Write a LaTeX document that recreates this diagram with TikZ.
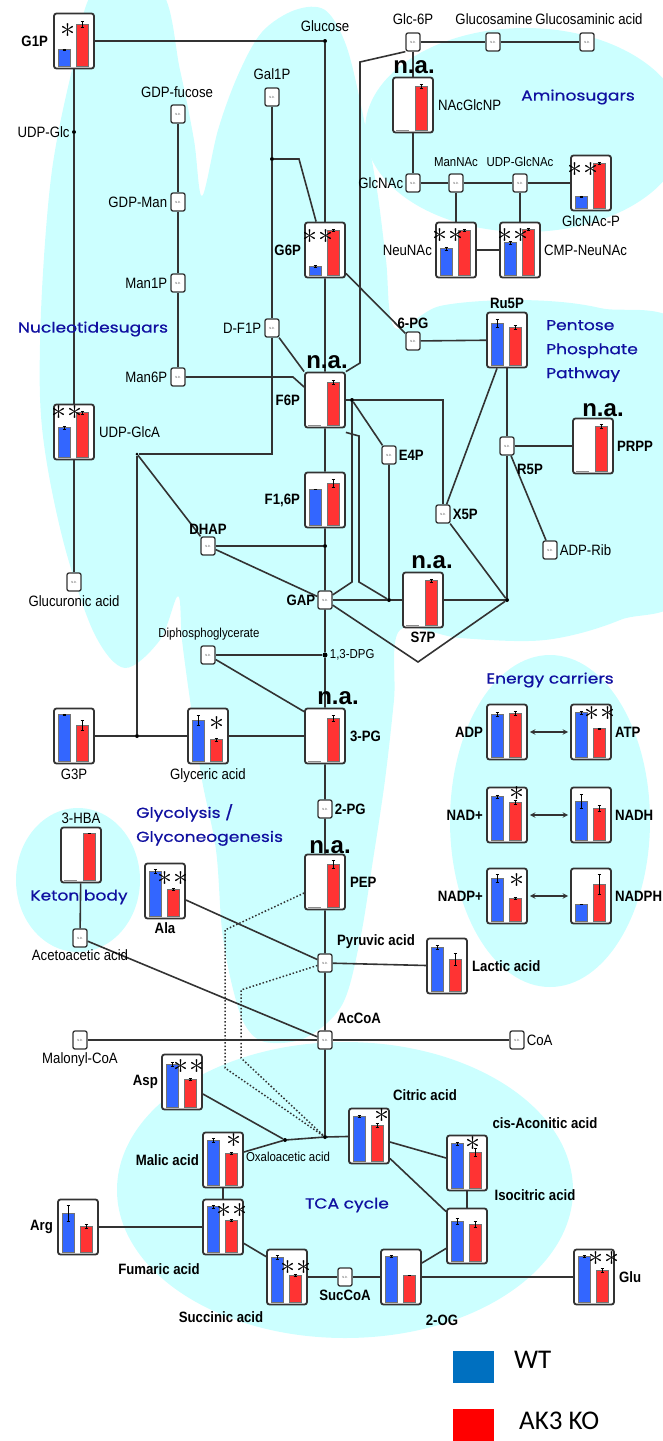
\documentclass[tikz,border=0pt]{standalone}
\usepackage{fontspec}
\setmainfont{Liberation Sans}[FakeStretch=0.88]
\newfontfamily\nafont{Liberation Sans}
\newfontfamily\grpfont{Poppins}[FakeStretch=1.18, FakeBold=0.6]
\newfontfamily\legfont{Carlito}
\usetikzlibrary{positioning,calc,arrows}

\definecolor{bgcyan}{RGB}{204,255,255}
\definecolor{wtblue}{RGB}{51,102,255}
\definecolor{kored}{RGB}{255,51,51}
\definecolor{grpblue}{RGB}{16,16,160}
\definecolor{legblue}{RGB}{0,112,192}
\definecolor{legred}{RGB}{255,0,0}
\definecolor{linegray}{RGB}{51,51,51}

% bar pair inside a box: node, WT, KO, WT error, KO error
\newcommand{\errbar}[4]{%
  \draw[errline] ($(#1.south west)+(#2,{-3-#3-#4})$) -- ++(0,{2*#4})
    ++(-1.5,0) -- ++(3,0) ++(-1.5,{-2*#4}) ++(-1.5,0) -- ++(3,0);}
\newcommand{\bars}[5]{%
  \draw[wtbar] ($(#1.south west)+(5,-3)$) rectangle ++(12,-#2);
  \draw[kobar] ($(#1.south west)+(23,-3)$) rectangle ++(12,-#3);
  \errbar{#1}{11}{#2}{#4}
  \errbar{#1}{29}{#3}{#5}}
% WT not available
\newcommand{\kobars}[3]{%
  \draw[baseln] ($(#1.south west)+(4,-3)$) -- ++(13,0);
  \draw[kobar] ($(#1.south west)+(23,-3)$) rectangle ++(12,-#2);
  \errbar{#1}{29}{#2}{#3}}
\newcommand{\signif}[4]{\node[sigstar] (#1s) at ($(#1.center)+(#2,#3)$) {#4};}

\begin{document}
\begin{tikzpicture}[
    x=1pt, y=-1pt,
    bbox/.style={draw=linegray, line width=1.8pt, fill=white, rounded corners=2.5pt, minimum width=40pt, minimum height=55pt, inner sep=0pt},
    ndbox/.style={draw=linegray, line width=1.3pt, fill=white, rounded corners=2pt, minimum width=14pt, minimum height=18pt, inner sep=0pt, font=\fontsize{3}{3}\selectfont, text=black!70},
    lbl/.style={font=\fontsize{15}{16}\selectfont, inner sep=1pt},
    slbl/.style={font=\fontsize{13}{14}\selectfont, inner sep=1pt},
    blbl/.style={font=\bfseries\fontsize{15}{16}\selectfont, inner sep=1pt},
    nalbl/.style={font=\nafont\bfseries\fontsize{24}{24}\selectfont, inner sep=0pt},
    grp/.style={font=\grpfont\fontsize{14.5}{24}\selectfont, text=grpblue, align=left, inner sep=0pt},
    sigstar/.style={font=\huge, text=black, inner sep=0pt, scale=1.45, transform shape},
    conn/.style={draw=linegray, line width=1.6pt},
    dotconn/.style={draw=linegray, line width=1.5pt, dotted},
    biarrow/.style={<->, >=stealth, draw=linegray, line width=1.4pt, shorten >=2pt, shorten <=2pt},
    jdot/.style={circle, fill=black, inner sep=0pt, minimum size=4pt},
    wtbar/.style={fill=wtblue, draw=black!55, line width=0.5pt},
    kobar/.style={fill=kored, draw=black!55, line width=0.5pt},
    errline/.style={draw=black, line width=0.5pt},
    baseln/.style={draw=black!45, line width=1pt},
    legkey/.style={minimum width=41pt, minimum height=32pt, inner sep=0pt},
    legtxt/.style={font=\legfont\fontsize{27}{27}\selectfont, inner sep=0pt}
]
\useasboundingbox (0,0) rectangle (663,1441);

% background areas
\fill[bgcyan] plot[smooth cycle, tension=0.55] coordinates {(95,-10) (160,-10) (180,70) (194,140) (202,196) (218,130) (238,75) (262,32) (295,10) (325,10) (346,45) (362,110) (377,190) (386,260) (395,328) (440,306) (520,300) (600,308) (690,340) (690,580) (620,620) (545,640) (460,638) (400,630) (394,700) (385,780) (373,860) (360,940) (342,1005) (305,1038) (265,1042) (245,1025) (232,985) (222,930) (216,850) (202,780) (190,700) (182,640) (178,596) (160,640) (125,668) (95,635) (67,555) (48,470) (40,397) (42,290) (52,170) (72,70)};
\fill[bgcyan] (525,130) ellipse [x radius=160pt, y radius=102pt];
\fill[bgcyan] (550,821) ellipse [x radius=100pt, y radius=166pt];
\fill[bgcyan] (78,880) ellipse [x radius=62pt, y radius=72pt];
\fill[bgcyan] (345,1190) ellipse [x radius=228pt, y radius=148pt];

% measured metabolites
\node[bbox] (g1p) at (74,41) {};
\node[bbox] (nacglcnp) at (413,105) {};
\node[bbox] (glcnacp) at (591,183) {};
\node[bbox] (neunac) at (456,250) {};
\node[bbox] (cmpneunac) at (520,250) {};
\node[bbox] (g6p) at (325,250) {};
\node[bbox] (udpglca) at (74,432) {};
\node[bbox] (f6p) at (325,400) {};
\node[bbox] (ru5p) at (507,340) {};
\node[bbox] (prpp) at (593,446) {};
\node[bbox] (f16p) at (325,500) {};
\node[bbox] (s7p) at (423,600) {};
\node[bbox] (g3p) at (74,736) {};
\node[bbox] (glyceric) at (208,736) {};
\node[bbox] (pg3) at (325,736) {};
\node[bbox] (hba) at (81,855) {};
\node[bbox] (ala) at (165,891) {};
\node[bbox] (pep) at (325,882) {};
\node[bbox] (lactic) at (447,966) {};
\node[bbox] (asp) at (182,1082) {};
\node[bbox] (malic) at (223,1160) {};
\node[bbox] (citric) at (369,1136) {};
\node[bbox] (cisaco) at (467,1163) {};
\node[bbox] (isocit) at (467,1236) {};
\node[bbox] (fumaric) at (223,1227) {};
\node[bbox] (arg) at (78,1227) {};
\node[bbox] (succinic) at (287,1277) {};
\node[bbox] (og2) at (401,1277) {};
\node[bbox] (glu) at (594,1277) {};
\node[bbox] (adp) at (507,732) {};
\node[bbox] (atp) at (591,732) {};
\node[bbox] (nad) at (507,815) {};
\node[bbox] (nadh) at (591,815) {};
\node[bbox] (nadp) at (507,896) {};
\node[bbox] (nadph) at (591,896) {};

% not detected
\node[ndbox] (glc6p) at (413,42) {N.D.};
\node[ndbox] (glcn) at (493,42) {N.D.};
\node[ndbox] (glcna) at (587,42) {N.D.};
\node[ndbox] (glcnac) at (413,183) {N.D.};
\node[ndbox] (mannac) at (456,183) {N.D.};
\node[ndbox] (udpglcnac) at (520,183) {N.D.};
\node[ndbox] (gdpfuc) at (178,114) {N.D.};
\node[ndbox] (gdpman) at (178,202) {N.D.};
\node[ndbox] (man1p) at (178,283) {N.D.};
\node[ndbox] (man6p) at (178,377) {N.D.};
\node[ndbox] (gal1p) at (272,97) {N.D.};
\node[ndbox] (df1p) at (272,328) {N.D.};
\node[ndbox] (pg6) at (413,341) {N.D.};
\node[ndbox] (e4p) at (389,455) {N.D.};
\node[ndbox] (x5p) at (443,514) {N.D.};
\node[ndbox] (r5p) at (507,446) {N.D.};
\node[ndbox] (adprib) at (550,550) {N.D.};
\node[ndbox] (dhap) at (208,546) {N.D.};
\node[ndbox] (gap) at (325,600) {N.D.};
\node[ndbox] (dpg) at (208,655) {N.D.};
\node[ndbox] (glcur) at (74,582) {N.D.};
\node[ndbox] (pg2) at (325,809) {N.D.};
\node[ndbox] (pyr) at (325,963) {N.D.};
\node[ndbox] (acac) at (80,938) {N.D.};
\node[ndbox] (accoa) at (325,1040) {N.D.};
\node[ndbox] (malcoa) at (80,1040) {N.D.};
\node[ndbox] (coa) at (517,1040) {N.D.};
\node[ndbox] (succoa) at (345,1277) {N.D.};

% junctions
\node[jdot] (glcdot) at (325,41) {};
\node[jdot] (udpglc) at (74,132) {};
\node[jdot] (galdot) at (272,159) {};
\node[jdot, minimum size=3pt] (g3pjoin) at (137,454) {};
\node[jdot] (g3pdot) at (137,736) {};
\node[jdot] (f6pdot) at (352,400) {};
\node[jdot] (dhapdot) at (325,546) {};
\node[jdot] (e4pdot) at (389,600) {};
\node[jdot] (ppdot) at (507,600) {};
\node[jdot, minimum size=5pt] (dpgdot) at (325,655) {};
\node[jdot] (oxdot1) at (285,1140) {};
\node[jdot] (oxdot2) at (325,1137) {};
\coordinate (vtip) at (418,662);

% connectors
\draw[conn] (g1p) -- (glcdot) -- (g6p);
\draw[conn] (g1p) -- (udpglc) -- (udpglca) -- (glcur);
\draw[conn] (glc6p) -- (glcn) -- (glcna);
\draw[conn] (glc6p) -- (nacglcnp) -- (glcnac);
\draw[conn] (glcnac) -- (mannac) -- (udpglcnac) -- (glcnacp);
\draw[conn] (mannac) -- (neunac) -- (cmpneunac);
\draw[conn] (udpglcnac) -- (cmpneunac);
\draw[conn] (glc6p.south west) -- (360,62) -- (360,363) -- (f6p.north east);
\draw[conn] (gdpfuc) -- (gdpman) -- (man1p) -- (man6p);
\draw[conn] (man6p) -- (293,377) -- ($(f6p.west)+(0,-13)$);
\draw[conn] (gal1p) -- (galdot) -- (df1p);
\draw[conn] (galdot) -- (299,159) -- ($(g6p.north west)+(12,0)$);
\draw[conn] (df1p) -- (272,454) -- (g3pjoin);
\draw[conn] (df1p) -- (f6p.north west);
\draw[conn] (g3pjoin) -- (g3pdot);
\draw[conn] (g3pjoin) -- (dhap);
\draw[conn] (g3p) -- (g3pdot) -- (glyceric) -- (pg3);
\draw[conn] (g6p) -- (f6p) -- (f16p) -- (dhapdot) -- (gap) -- (dpgdot) -- (pg3) -- (pg2) -- (pep) -- (pyr) -- (accoa) -- (oxdot2) -- (citric);
\draw[conn] (dhap) -- (dhapdot);
\draw[conn] (dhap) -- (gap);
\draw[conn] ($(g6p.south east)+(0,-5)$) -- (pg6);
\draw[conn] (pg6) -- (ru5p);
\draw[conn] (ru5p) -- (r5p) -- (ppdot);
\draw[conn] (r5p) -- (prpp);
\draw[conn] (r5p) -- (adprib);
\draw[conn] ($(ru5p.south)+(-10,0)$) -- (x5p);
\draw[conn] (f6p) -- (f6pdot) -- (443,400) -- (x5p);
\draw[conn] (f6pdot) -- (e4p) -- (e4pdot);
\draw[conn] (f6pdot) -- (352,582) -- (gap);
\draw[conn] ($(f6p.south east)+(0,4)$) -- (359,436) -- (359,582) -- (e4pdot);
\draw[conn] (gap) -- (e4pdot) -- (s7p) -- (ppdot);
\draw[conn] (x5p) -- (ppdot);
\draw[conn] (gap) -- (vtip) -- (ppdot);
\draw[conn] (dpg) -- (dpgdot);
\draw[conn] (dpg) -- ($(pg3.north west)+(0,4)$);
\draw[conn] (hba) -- (acac) -- (accoa);
\draw[conn] ($(ala.east)+(0,9)$) -- (pyr);
\draw[conn] (pyr) -- (lactic);
\draw[dotconn] ($(pep.west)+(0,11)$) -- (225,930) -- (225,1068) -- (oxdot2);
\draw[dotconn] (pyr) -- (241,990) -- (241,1058) -- (oxdot2);
\draw[conn] (malcoa) -- (accoa) -- (coa);
\draw[conn] ($(asp.east)+(0,12)$) -- (oxdot1);
\draw[conn] ($(malic.east)+(0,-8)$) -- (oxdot1) -- (oxdot2);
\draw[conn] (malic) -- (fumaric);
\draw[conn] (arg) -- (fumaric);
\draw[conn] ($(fumaric.south east)+(0,-12)$) -- ($(succinic.north west)+(0,8)$);
\draw[conn] (succinic) -- (succoa) -- (og2) -- (glu);
\draw[conn] ($(og2.east)+(0,-14)$) -- ($(isocit.south west)+(0,-16)$);
\draw[conn] (cisaco) -- (isocit);
\draw[conn] ($(citric.east)+(0,6)$) -- ($(cisaco.west)+(0,-5)$);
\draw[conn] ($(citric.south east)+(0,-6)$) -- ($(isocit.north west)+(0,4)$);
\draw[biarrow] (adp) -- (atp);
\draw[biarrow] (nad) -- (nadh);
\draw[biarrow] (nadp) -- (nadph);

% bars
\bars{g1p}{17}{42}{0.5}{3}
\bars{g6p}{9}{45}{1}{1}
\kobars{f6p}{43}{2}
\bars{f16p}{36}{42}{0}{4}
\kobars{nacglcnp}{44}{2}
\bars{glcnacp}{12}{45}{0.5}{1}
\bars{neunac}{27}{45}{1.5}{1}
\bars{cmpneunac}{33}{46}{1.5}{1}
\bars{udpglca}{30}{45}{1.5}{1.5}
\bars{ru5p}{42}{38}{4}{2}
\kobars{prpp}{45}{2}
\kobars{s7p}{45}{1.5}
\kobars{pg3}{43}{3}
\kobars{pep}{43}{4}
\bars{g3p}{47}{36}{0.5}{5}
\bars{glyceric}{41}{22}{5}{1.5}
\kobars{hba}{47}{0}
\bars{ala}{45}{27}{2}{1}
\bars{lactic}{44}{32}{2}{6}
\bars{asp}{43}{28}{2}{1}
\bars{malic}{45}{32}{2}{1}
\bars{citric}{45}{36}{1}{2}
\bars{cisaco}{45}{36}{1.5}{4}
\bars{isocit}{40}{37}{3}{3}
\bars{fumaric}{46}{32}{1.5}{1}
\bars{arg}{39}{26}{8}{2}
\bars{succinic}{45}{27}{2}{1}
\bars{og2}{46}{27}{1}{0}
\bars{glu}{46}{32}{1}{2}
\bars{adp}{43}{44}{2}{2}
\bars{atp}{45}{29}{1.5}{0.5}
\bars{nad}{44}{38}{1.5}{2}
\bars{nadh}{39}{32}{7}{3}
\bars{nadp}{43}{23}{4}{1}
\bars{nadph}{17}{37}{0}{10}

% significance
\signif{g1p}{-6}{-11}{$\ast$}
\signif{g6p}{-7}{-14}{$\ast\ast$}
\signif{glcnacp}{-8}{-14}{$\ast\ast$}
\signif{neunac}{-8}{-15}{$\ast\ast$}
\signif{cmpneunac}{-7}{-15}{$\ast\ast$}
\signif{udpglca}{-7}{-20}{$\ast\ast$}
\signif{glyceric}{9}{-13}{$\ast$}
\signif{ala}{8}{-13}{$\ast\ast$}
\signif{atp}{9}{-19}{$\ast\ast$}
\signif{nad}{10}{-22}{$\ast$}
\signif{nadp}{10}{-16}{$\ast$}
\signif{asp}{7}{-16}{$\ast\ast$}
\signif{malic}{11}{-20}{$\ast$}
\signif{citric}{13}{-21}{$\ast$}
\signif{cisaco}{6}{-20}{$\ast$}
\signif{fumaric}{9}{-17}{$\ast\ast$}
\signif{succinic}{9}{-10}{$\ast\ast$}
\signif{glu}{10}{-19}{$\ast\ast$}

% n.a.
\node[nalbl] (f6pna) at (327,362) {n.a.};
\node[nalbl] (nacglcnpna) at (414,67) {n.a.};
\node[nalbl] (prppna) at (603,410) {n.a.};
\node[nalbl] (s7pna) at (432,562) {n.a.};
\node[nalbl] (pg3na) at (338,698) {n.a.};
\node[nalbl] (pepna) at (330,847) {n.a.};

% labels
\node[lbl] (glucosel) at (325,26) {Glucose};
\node[lbl] (glc6pl) at (413,19) {Glc-6P};
\node[lbl] (glcnl) at (494,19) {Glucosamine};
\node[lbl] (glcnal) at (589,19) {Glucosaminic acid};
\node[lbl, left=1pt of udpglc] (udpglcl) {UDP-Glc};
\node[lbl] (gdpfucl) at (177,92) {GDP-fucose};
\node[lbl, left=2pt of gdpman] (gdpmanl) {GDP-Man};
\node[lbl, left=2pt of man1p] (man1pl) {Man1P};
\node[lbl, left=2pt of man6p] (man6pl) {Man6P};
\node[lbl] (gal1pl) at (272,74) {Gal1P};
\node[lbl, left=2pt of df1p] (df1pl) {D-F1P};
\node[lbl, right=3pt of nacglcnp] (nacglcnpl) {NAcGlcNP};
\node[lbl, left=1pt of glcnac] (glcnacl) {GlcNAc};
\node[slbl] (mannacl) at (456,162) {ManNAc};
\node[slbl] (udpglcnacl) at (520,162) {UDP-GlcNAc};
\node[lbl, below=3pt of glcnacp] (glcnacpl) {GlcNAc-P};
\node[lbl, left=2pt of neunac] (neunacl) {NeuNAc};
\node[lbl, right=2pt of cmpneunac] (cmpneunacl) {CMP-NeuNAc};
\node[lbl, right=3pt of udpglca] (udpglcal) {UDP-GlcA};
\node[lbl, below=3pt of glcur] (glcurl) {Glucuronic acid};
\node[lbl, right=1pt of adprib] (adpribl) {ADP-Rib};
\node[slbl] (dpgl) at (209,634) {Diphosphoglycerate};
\node[slbl, right=1pt of dpgdot] (dpgdotl) {1,3-DPG};
\node[lbl, below=3pt of g3p] (g3pl) {G3P};
\node[lbl, below=3pt of glyceric] (glycericl) {Glyceric acid};
\node[lbl, above=2pt of hba] (hbal) {3-HBA};
\node[lbl, below=1pt of acac] (acacl) {Acetoacetic acid};
\node[lbl, below=2pt of malcoa] (malcoal) {Malonyl-CoA};
\node[lbl, right=1pt of coa] (coal) {CoA};
\node[slbl] (oxal) at (288,1157) {Oxaloacetic acid};

\node[blbl, left=4pt of g1p] (g1pl) {G1P};
\node[blbl, left=2pt of g6p] (g6pl) {G6P};
\node[blbl, left=3pt of f6p] (f6pl) {F6P};
\node[blbl, left=3pt of f16p] (f16pl) {F1,6P};
\node[blbl, above=2pt of pg6] (pg6l) {6-PG};
\node[blbl, above=2pt of ru5p] (ru5pl) {Ru5P};
\node[blbl, right=1pt of e4p] (e4pl) {E4P};
\node[blbl, right=1pt of x5p] (x5pl) {X5P};
\node[blbl] (r5pl) at (530,469) {R5P};
\node[blbl, right=2pt of prpp] (prppl) {PRPP};
\node[blbl, above=1pt of dhap] (dhapl) {DHAP};
\node[blbl, left=1pt of gap] (gapl) {GAP};
\node[blbl, below=2pt of s7p] (s7pl) {S7P};
\node[blbl, right=3pt of pg3] (pg3l) {3-PG};
\node[blbl, right=1pt of pg2] (pg2l) {2-PG};
\node[blbl, right=3pt of pep] (pepl) {PEP};
\node[blbl, below=2pt of ala] (alal) {Ala};
\node[blbl] (pyrl) at (376,942) {Pyruvic acid};
\node[blbl, right=3pt of lactic] (lacticl) {Lactic acid};
\node[blbl] (accoal) at (359,1018) {AcCoA};
\node[blbl, left=2pt of asp] (aspl) {Asp};
\node[blbl, left=2pt of malic] (malicl) {Malic acid};
\node[blbl] (citricl) at (425,1095) {Citric acid};
\node[blbl] (cisacol) at (545,1123) {cis-Aconitic acid};
\node[blbl] (isocitl) at (535,1195) {Isocitric acid};
\node[blbl] (fumaricl) at (159,1269) {Fumaric acid};
\node[blbl, left=3pt of arg] (argl) {Arg};
\node[blbl] (succinicl) at (221,1317) {Succinic acid};
\node[blbl, below=2pt of succoa] (succoal) {SucCoA};
\node[blbl] (og2l) at (442,1320) {2-OG};
\node[blbl, right=3pt of glu] (glul) {Glu};
\node[blbl, left=2pt of adp] (adpl) {ADP};
\node[blbl, right=2pt of atp] (atpl) {ATP};
\node[blbl, left=2pt of nad] (nadl) {NAD+};
\node[blbl, right=2pt of nadh] (nadhl) {NADH};
\node[blbl, left=2pt of nadp] (nadpl) {NADP+};
\node[blbl, right=2pt of nadph] (nadphl) {NADPH};

% pathway names
\node[grp] (aminol) at (578,97) {Aminosugars};
\node[grp] (nucl) at (93,329) {Nucleotidesugars};
\node[grp, anchor=west] (ppl) at (546,351) {Pentose\\Phosphate\\Pathway};
\node[grp] (energyl) at (550,680) {Energy carriers};
\node[grp, anchor=west] (glycl) at (136,825) {Glycolysis /\\Glyconeogenesis};
\node[grp] (ketonl) at (79,897) {Keton body};
\node[grp] (tcal) at (347,1205) {TCA cycle};

% legend
\node[legkey, fill=legblue] (wtkey) at (473,1367) {};
\node[legtxt, anchor=west] (wtl) at (514,1360) {WT};
\node[legkey, fill=legred] (kokey) at (473,1425) {};
\node[legtxt, anchor=west] (kol) at (519,1421) {AK3 KO};
\end{tikzpicture}
\end{document}
